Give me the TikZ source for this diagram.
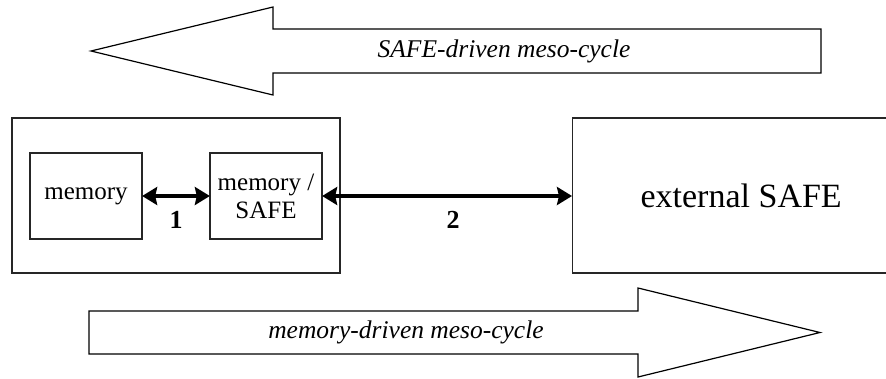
\documentclass[tikz,border=0pt]{standalone}
\usepackage{fontspec}
\setmainfont{Liberation Serif}
\usetikzlibrary{arrows.meta}
\begin{document}
\begin{tikzpicture}[x=1pt,y=-1pt,
  frame/.style={draw=black!85,line width=1.3pt,rectangle,inner sep=0pt,align=center},
  boxtext/.style={font=\fontsize{25}{28}\selectfont},
  biglabel/.style={font=\fontsize{34}{38}\selectfont},
  numlabel/.style={font=\fontsize{26}{28}\selectfont\bfseries,inner sep=0pt},
  cyclelabel/.style={font=\fontsize{25.5}{28}\selectfont\itshape,inner sep=0pt},
  hollowarrow/.style={draw=black,line width=1.2pt,fill=white,line join=miter},
  link/.style={line width=4pt,{Stealth[length=15pt,width=18pt,inset=2pt]}-{Stealth[length=15pt,width=18pt,inset=2pt]},shorten <=-0.5pt,shorten >=-0.5pt}]
\useasboundingbox (0,0) rectangle (886,378);

% SAFE-driven cycle (pointing left)
\draw[hollowarrow] (91,51) -- (273,7) -- (273,29) -- (821,29) -- (821,73)
  -- (273,73) -- (273,95) -- cycle;
\node[cyclelabel] (safecycle) at (504,51) {SAFE-driven meso-cycle};

% memory-driven cycle (pointing right)
\draw[hollowarrow] (89,311) -- (638,311) -- (638,288) -- (820,332.5) -- (638,377)
  -- (638,354) -- (89,354) -- cycle;
\node[cyclelabel] (memcycle) at (406,332.5) {memory-driven meso-cycle};

% internal system and its parts
\node[frame,minimum width=328,minimum height=155] (inner) at (176,195.5) {};
\node[frame,boxtext,minimum width=112,minimum height=86] (mem) at (86,196) {memory};
\node[frame,boxtext,minimum width=112,minimum height=86] (memsafe) at (266,196) {memory /\\SAFE};

% external system
\node[frame,biglabel,minimum width=326,minimum height=155,anchor=west] (ext) at (571.5,195.5) {\hspace*{12pt}external SAFE};

% couplings
\draw[link] (mem.east) -- (memsafe.west);
\node[numlabel] (one) at (176,219.5) {1};
\draw[link] (memsafe.east) -- (memsafe.east -| ext.west);
\node[numlabel] (two) at (453,219.5) {2};
\end{tikzpicture}
\end{document}
